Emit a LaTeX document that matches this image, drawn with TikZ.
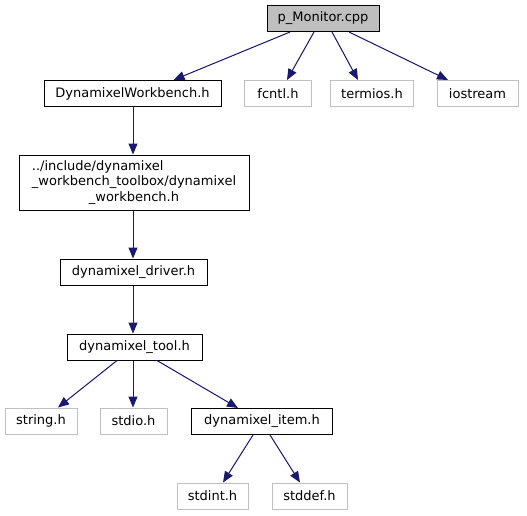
\documentclass[tikz,border=0pt]{standalone}
\usepackage{fontspec}
\setmainfont{DejaVu Sans}
\usetikzlibrary{arrows.meta}
\definecolor{edgeblue}{HTML}{191970}
\definecolor{boxgray}{HTML}{BFBFBF}
\begin{document}
\begin{tikzpicture}[x=1pt,y=-1pt,
  font=\fontsize{13}{15.5}\selectfont,
  box/.style={draw=black,line width=1pt,inner sep=0pt,minimum height=26pt,align=center},
  ext/.style={draw=boxgray,line width=1pt,inner sep=0pt,minimum height=26pt,align=center},
  dep/.style={draw=edgeblue,line width=1pt,-{Triangle[length=11pt,width=9pt]},fill=edgeblue}]
\useasboundingbox (0,0) rectangle (527,515);
\node[box,fill=boxgray,minimum width=112pt] (pm) at (323,18.5) {p\_Monitor.cpp};
\node[box,minimum width=177pt] (dw) at (132.5,93.5) {DynamixelWorkbench.h};
\node[ext,minimum width=67pt] (fc) at (278,93.5) {fcntl.h};
\node[ext,minimum width=83pt] (te) at (372,93.5) {termios.h};
\node[ext,minimum width=81pt] (io) at (477.5,93.5) {iostream};
\node[box,minimum width=230pt,minimum height=55pt] (inc) at (134,182.5)
  {\begin{tabular}{@{}l@{}}../include/dynamixel\\\_workbench\_toolbox/dynamixel\\\multicolumn{1}{@{}c@{}}{\_workbench.h}\end{tabular}};
\node[box,minimum width=147pt] (drv) at (133.5,272) {dynamixel\_driver.h};
\node[box,minimum width=135pt] (tool) at (134.5,347) {dynamixel\_tool.h};
\node[ext,minimum width=72pt] (str) at (41,421) {string.h};
\node[ext,minimum width=67pt] (sio) at (133.5,421) {stdio.h};
\node[box,minimum width=141pt] (item) at (262,421.5) {dynamixel\_item.h};
\node[ext,minimum width=71pt] (sint) at (212.5,496) {stdint.h};
\node[ext,minimum width=75pt] (sdef) at (309.5,496) {stddef.h};
\draw[dep] ([xshift=-33pt]pm.south) -- ([xshift=41pt]dw.north);
\draw[dep] ([xshift=-9pt]pm.south) -- ([xshift=9pt]fc.north);
\draw[dep] ([xshift=9pt]pm.south) -- ([xshift=-14pt]te.north);
\draw[dep] ([xshift=26pt]pm.south) -- ([xshift=-29.5pt]io.north);
\draw[dep] ([xshift=0.5pt]dw.south) -- ([xshift=0.5pt]dw.south |- inc.north);
\draw[dep] ([xshift=-1pt]inc.south) -- ([xshift=-1pt]inc.south |- drv.north);
\draw[dep] ([xshift=-0.5pt]drv.south) -- ([xshift=-0.5pt]drv.south |- tool.north);
\draw[dep] ([xshift=-17.5pt]tool.south) -- ([xshift=17pt]str.north);
\draw[dep] ([xshift=-1.5pt]tool.south) -- ([xshift=-1.5pt]tool.south |- sio.north);
\draw[dep] ([xshift=22.5pt]tool.south) -- ([xshift=-24pt]item.north);
\draw[dep] ([xshift=-9pt]item.south) -- ([xshift=10.5pt]sint.north);
\draw[dep] ([xshift=8pt]item.south) -- ([xshift=-9.5pt]sdef.north);
\end{tikzpicture}
\end{document}
